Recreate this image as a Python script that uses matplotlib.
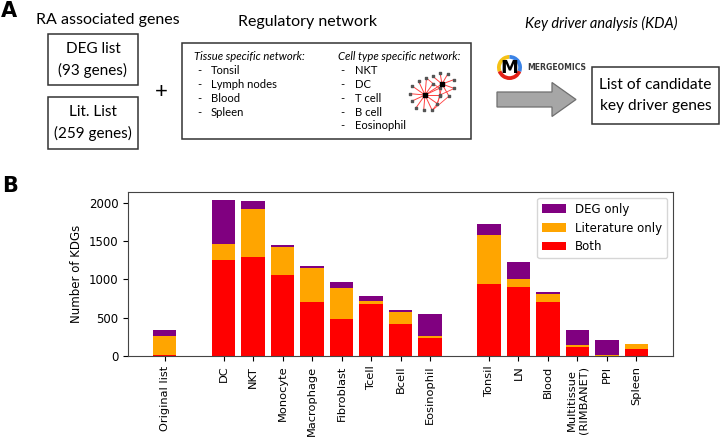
import numpy as np
import matplotlib
matplotlib.use("Agg")
import matplotlib.pyplot as plt
from matplotlib.patches import Rectangle, Polygon, Wedge

# ---------------- data (panel B) ----------------
group_original = ["Original list"]
group_cells = ["DC", "NKT", "Monocyte", "Macrophage", "Fibroblast", "Tcell", "Bcell", "Eosinophil"]
group_tissues = ["Tonsil", "LN", "Blood", "Multitissue\n(RIMBANET)", "PPI", "Spleen"]

both = [15, 1256, 1291, 1063, 709, 486, 674, 416, 241, 937, 897, 700, 114, 5, 88]
literature_only = [244, 206, 630, 364, 438, 398, 39, 153, 26, 638, 105, 105, 35, 5, 65]
deg_only = [78, 577, 101, 22, 30, 83, 66, 26, 276, 154, 223, 26, 184, 204, 2]

series_labels = ["DEG only", "Literature only", "Both"]
series_colors = ["purple", "orange", "red"]

# ---------------- panel A text content ----------------
tissue_items = ["Tonsil", "Lymph nodes", "Blood", "Spleen"]
cell_items = ["NKT", "DC", "T cell", "B cell", "Eosinophil"]

W, H = 720, 437
fig = plt.figure(figsize=(W / 100, H / 100), dpi=100)

# overlay axes in pixel coordinates for panel A
ov = fig.add_axes([0, 0, 1, 1])
ov.set_xlim(0, W)
ov.set_ylim(H, 0)
ov.axis("off")

FONT = "Lato"
SMALL = 8.1

ov.text(1, 11, "A", fontsize=15, fontweight="bold", ha="left", va="center", family="DejaVu Sans")
ov.text(2, 186, "B", fontsize=15, fontweight="bold", ha="left", va="center", family="DejaVu Sans")

ov.text(108, 20, "RA associated genes", fontsize=11.5, ha="center", va="center", family=FONT)

for (x0, y0, x1, y1), l1, l2 in [((48, 34, 138, 85), "DEG list", "(93 genes)"),
                                 ((48, 97, 138, 149), "Lit. List", "(259 genes)")]:
    ov.add_patch(Rectangle((x0, y0), x1 - x0, y1 - y0, fill=False, ec="#333333", lw=1.1))
    cx = (x0 + x1) / 2
    cy = (y0 + y1) / 2
    ov.text(cx, cy - 10.5, l1, fontsize=11, ha="center", va="center", family=FONT)
    ov.text(cx, cy + 10.5, l2, fontsize=11, ha="center", va="center", family=FONT)

ov.text(161, 92, "+", fontsize=16, ha="center", va="center", family=FONT)

ov.text(308, 22, "Regulatory network", fontsize=11.5, ha="center", va="center", family=FONT)
ov.add_patch(Rectangle((182, 43), 289, 96, fill=False, ec="#333333", lw=1.1))

ov.text(194, 57, "Tissue specific network:", fontsize=SMALL, style="italic", ha="left", va="center", family=FONT)
for i, t in enumerate(tissue_items):
    y = 71 + i * 13.7
    ov.text(197, y, "-", fontsize=SMALL, ha="left", va="center", family=FONT)
    ov.text(211, y, t, fontsize=SMALL, ha="left", va="center", family=FONT)

ov.text(338, 57, "Cell type specific network:", fontsize=SMALL, style="italic", ha="left", va="center", family=FONT)
for i, t in enumerate(cell_items):
    y = 71 + i * 13.7
    ov.text(340, y, "-", fontsize=SMALL, ha="left", va="center", family=FONT)
    ov.text(355, y, t, fontsize=SMALL, ha="left", va="center", family=FONT)

# small network glyph (decorative)
hub1 = (425, 95)
hub2 = (442, 84)
ang1 = np.deg2rad([0, 25, 55, 85, 115, 145, 175, 205, 235, 265, 295, 325])
r1 = [15, 16, 14, 17, 15, 16, 15, 14, 16, 15, 17, 15]
nodes1 = [(hub1[0] + r * np.cos(a), hub1[1] - r * np.sin(a)) for a, r in zip(ang1, r1)]
ang2 = np.deg2rad([-20, 20, 60, 100, 140, -60, -100])
r2 = [13, 13, 12, 11, 12, 14, 12]
nodes2 = [(hub2[0] + r * np.cos(a), hub2[1] - r * np.sin(a)) for a, r in zip(ang2, r2)]
for nx, ny in nodes1:
    ov.plot([hub1[0], nx], [hub1[1], ny], color="#ff4040", lw=0.7)
for nx, ny in nodes2:
    ov.plot([hub2[0], nx], [hub2[1], ny], color="#ff4040", lw=0.7)
ov.plot([hub1[0], hub2[0]], [hub1[1], hub2[1]], color="#ff4040", lw=0.7)
for a, b in [(0, 1), (1, 2), (10, 11), (11, 0), (2, 3)]:
    ov.plot([nodes1[a][0], nodes1[b][0]], [nodes1[a][1], nodes1[b][1]], color="#ff4040", lw=0.6)
for a, b in [(0, 0), (5, 10), (6, 11)]:
    ov.plot([nodes2[a][0], nodes1[b][0]], [nodes2[a][1], nodes1[b][1]], color="#ff4040", lw=0.6)
allx = [p[0] for p in nodes1 + nodes2]
ally = [p[1] for p in nodes1 + nodes2]
ov.scatter(allx, ally, s=2.5, marker="s", color="#555555", zorder=3)
ov.scatter([hub1[0], hub2[0]], [hub1[1], hub2[1]], s=7, marker="s", color="black", zorder=3)

# KDA title
ov.text(601, 23, "Key driver analysis (KDA)", fontsize=10.5, style="italic", ha="center", va="center", family=FONT)

# Mergeomics logo
lc = (509.5, 67.5)
ov.add_patch(Wedge(lc, 12.5, 20, 160, width=3.8, color="#e32119", lw=0))
ov.add_patch(Wedge(lc, 12.5, 160, 270, width=3.8, color="#f5c116", lw=0))
ov.add_patch(Wedge(lc, 12.5, 270, 380, width=3.8, color="#3b83e6", lw=0))
ov.text(lc[0], lc[1] + 0.5, "M", fontsize=13, fontweight="bold", ha="center", va="center", family="DejaVu Sans")
ov.text(527, 67, "MERGEOMICS", fontsize=5.6, fontweight="bold", ha="left", va="center", color="#3a3a3a", family="DejaVu Sans")

# arrow
arrow_pts = [(497, 92), (552, 92), (552, 82.5), (576, 99.5), (552, 116.5), (552, 107), (497, 107)]
ov.add_patch(Polygon(arrow_pts, closed=True, fc="#a6a6a6", ec="#6f6f6f", lw=0.9))

# result box
ov.add_patch(Rectangle((592, 67), 127, 57, fill=False, ec="#333333", lw=1.1))
ov.text(655.5, 85, "List of candidate", fontsize=11.2, ha="center", va="center", family=FONT)
ov.text(655.5, 106, "key driver genes", fontsize=11.2, ha="center", va="center", family=FONT)

# ---------------- panel B ----------------
ax = fig.add_axes([128 / W, 1 - 356 / H, (673 - 128) / W, (356 - 192) / H])

labels = group_original + group_cells + group_tissues
x = []
pos = 0
for g in [group_original, group_cells, group_tissues]:
    for _ in g:
        x.append(pos)
        pos += 1
    pos += 1
x = np.array(x)

both_a = np.array(both)
lit_a = np.array(literature_only)
deg_a = np.array(deg_only)

b_both = ax.bar(x, both_a, color=series_colors[2], label=series_labels[2])
b_lit = ax.bar(x, lit_a, bottom=both_a, color=series_colors[1], label=series_labels[1])
b_deg = ax.bar(x, deg_a, bottom=both_a + lit_a, color=series_colors[0], label=series_labels[0])

ax.set_xticks(x)
ax.set_xticklabels(labels, rotation=90, fontsize=8.2)
ax.tick_params(axis="y", labelsize=8.5)
ax.set_yticks([0, 500, 1000, 1500, 2000])
ax.set_ylabel("Number of KDGs", fontsize=8.5)
for s in ax.spines.values():
    s.set_color("#444444")
ax.legend(handles=[b_deg, b_lit, b_both], labels=series_labels, loc="upper right", fontsize=8.5)

fig.savefig("out.png", dpi=100)
